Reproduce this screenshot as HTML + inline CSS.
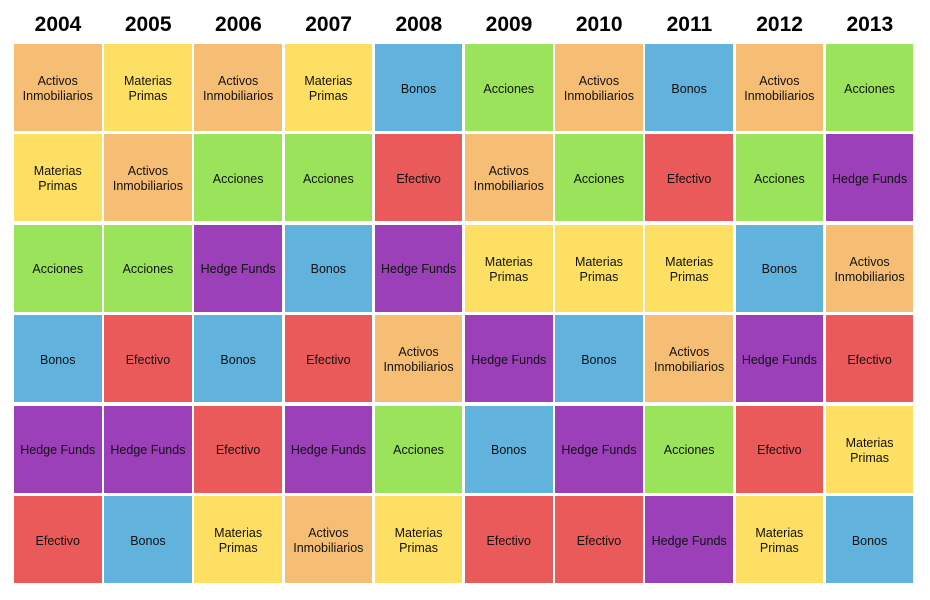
<!DOCTYPE html><html><head><style>
body{margin:0;width:930px;height:600px;background:#fff;position:relative;font-family:"Liberation Sans",Arial,sans-serif;overflow:hidden}
.y{position:absolute;top:13px;width:88px;text-align:center;font-weight:bold;font-size:21px;color:#000}
.c{position:absolute;box-sizing:border-box;padding-top:3px;width:87.5px;height:87px;display:flex;align-items:center;justify-content:center;text-align:center;font-size:12.5px;line-height:15px;color:#111}
.A{background:#F6BE74}.M{background:#FDDF63}.G{background:#9AE35A}.B{background:#62B2DE}.E{background:#EA5A5A}.H{background:#9B40B8}
</style></head><body>
<script>
const cols=[
"AMGBHE","MAGEHB","AGHBEM","MGBEHA","BEHAGM","GAMHBE","AGMBHE","BEMAGH","AGBHEM","GHAEMB"];
const yrs=[2004,2005,2006,2007,2008,2009,2010,2011,2012,2013];
const t={A:"Activos<br>Inmobiliarios",M:"Materias<br>Primas",G:"Acciones",B:"Bonos",E:"Efectivo",H:"Hedge Funds"};
let h="";
cols.forEach((c,i)=>{const x=14+i*90.2;
h+=`<div class="y" style="left:${x}px">${yrs[i]}</div>`;
[...c].forEach((k,j)=>{h+=`<div class="c ${k}" style="left:${x}px;top:${44+j*90.4}px">${t[k]}</div>`});});
document.write(h);
</script>
</body></html>
